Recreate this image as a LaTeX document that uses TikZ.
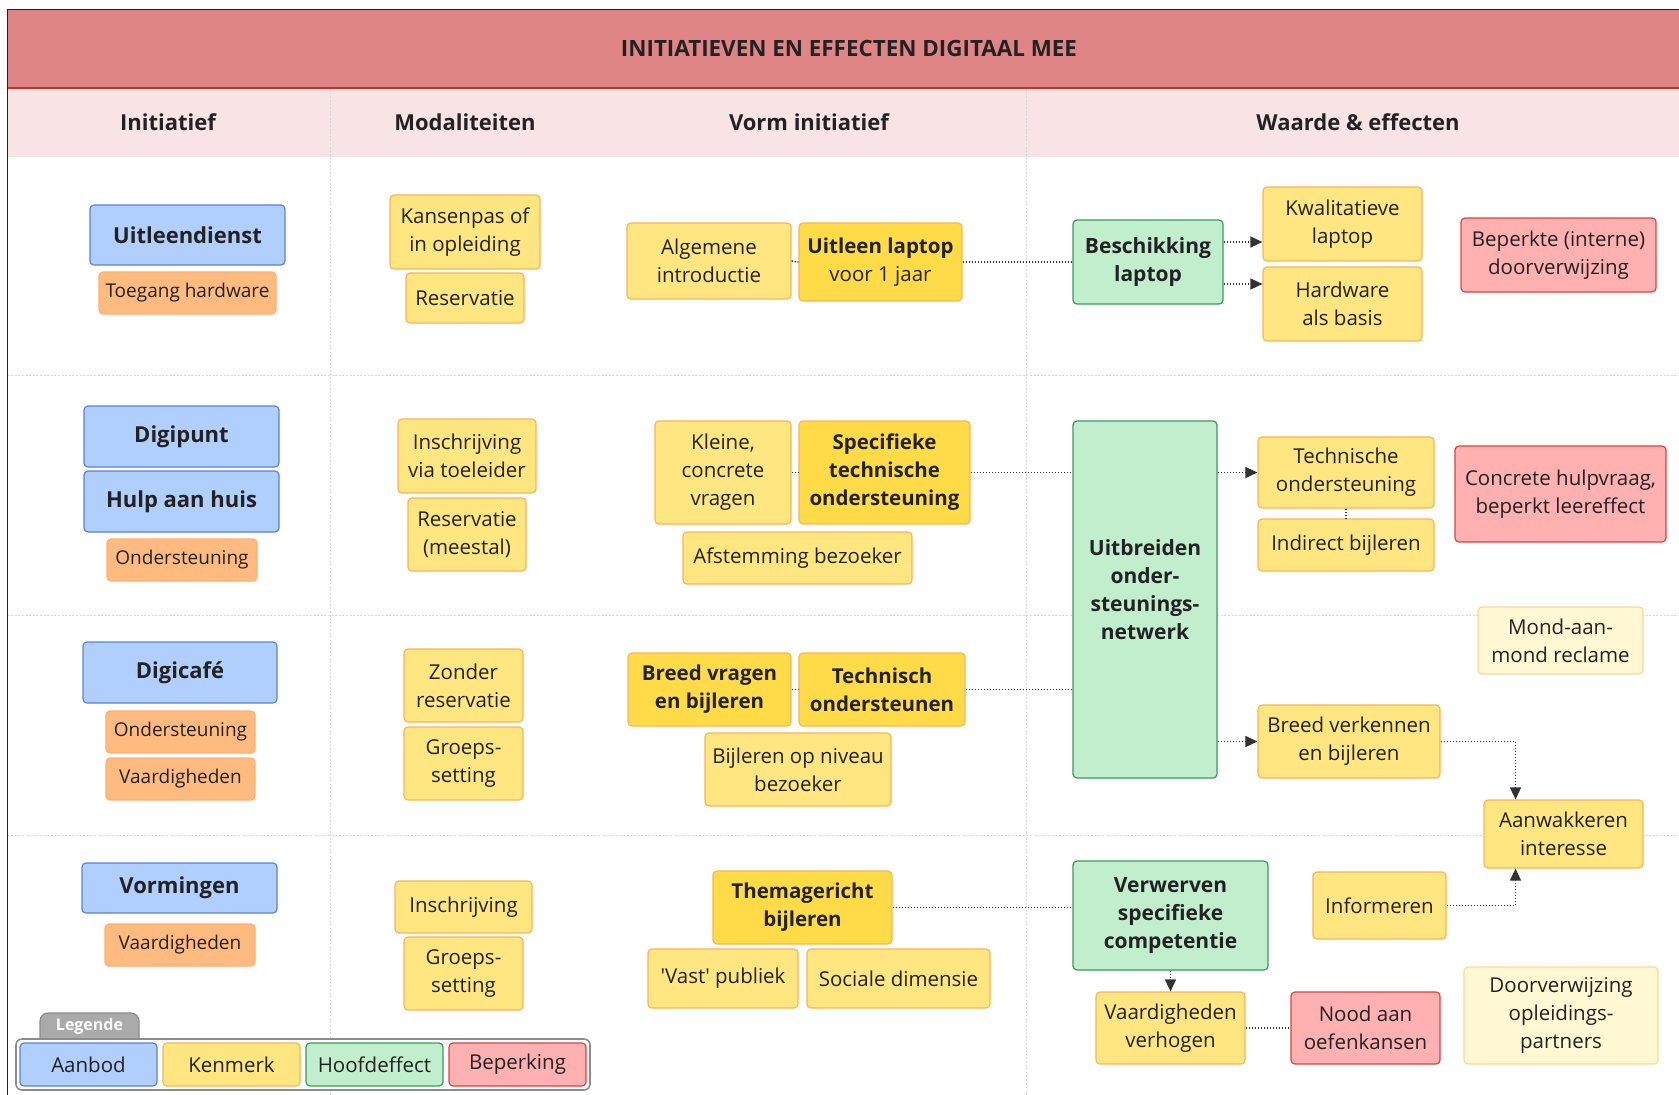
\documentclass[tikz,border=0pt]{standalone}
\usepackage{fontspec}
\setmainfont{Open Sans}
\usetikzlibrary{arrows.meta}
\definecolor{txt}{HTML}{222222}
\definecolor{blueF}{HTML}{B0CFFD}
\definecolor{blueD}{HTML}{5B82D6}
\definecolor{orF}{HTML}{FFBA80}
\definecolor{orD}{HTML}{FFB070}
\definecolor{yeF}{HTML}{FFE680}
\definecolor{yeD}{HTML}{F8B555}
\definecolor{syF}{HTML}{FFDB48}
\definecolor{grF}{HTML}{C1EECD}
\definecolor{grD}{HTML}{3A9A5E}
\definecolor{reF}{HTML}{FFB0B0}
\definecolor{reD}{HTML}{D84444}
\definecolor{lyF}{HTML}{FFF8D2}
\definecolor{lyD}{HTML}{FFD598}
\definecolor{titleF}{HTML}{DF8585}
\definecolor{titleL}{HTML}{C83030}
\definecolor{headF}{HTML}{F8E4E5}
\definecolor{cn}{HTML}{333333}
\definecolor{gridc}{HTML}{D8D8D8}
\definecolor{legT}{HTML}{AAAAAA}
\definecolor{legD}{HTML}{8C8C8C}
\newcommand\bx[7]{\node[#1, minimum width={(#5-#3)*0.5pt}, minimum height={(#6-#4)*0.5pt}] (#2) at ({(#3+#5)/2},{(#4+#6)/2}) {#7};}
\tikzset{
  base/.style={rounded corners=2pt, line width=0.6pt, align=center, inner sep=1pt, text=txt, font=\fontsize{10.25}{14}\selectfont},
  aanbod/.style={base, fill=blueF, draw=blueD, font=\fontsize{11}{14}\selectfont\bfseries},
  oranje/.style={base, fill=orF, draw=orD, font=\fontsize{9.5}{13}\selectfont},
  kenm/.style={base, fill=yeF, draw=yeD},
  sterk/.style={base, fill=syF, draw=yeD, font=\fontsize{10.25}{14}\selectfont\bfseries},
  hoofd/.style={base, fill=grF, draw=grD, font=\fontsize{10.5}{14}\selectfont\bfseries},
  beperk/.style={base, fill=reF, draw=reD},
  licht/.style={base, fill=lyF, draw=lyD},
  legbox/.style={rounded corners=3pt, fill=white, draw=legD, line width=0.8pt},
  conn/.style={draw=cn, line width=0.75pt, dash pattern=on 0.75pt off 0.75pt},
  arr/.style={conn, -{Triangle[length=6pt,width=5.5pt]}},
  gridl/.style={draw=gridc, line width=0.5pt, dash pattern=on 1pt off 0.8pt},
  headtxt/.style={text=txt, font=\fontsize{11}{14}\selectfont\bfseries},
}
\begin{document}
\begin{tikzpicture}[x=0.5pt,y=-0.5pt]
\useasboundingbox (0,0) rectangle (1679,1094);
\clip (0,0) rectangle (1679,1094);
\fill[white] (0,0) rectangle (1679,1094);
% title and header bands
\fill[titleF] (7.5,9.3) rectangle (1700,88);
\fill[headF] (7.5,88.5) rectangle (1700,157);
\draw[titleL, line width=0.9pt] (7.5,88) -- (1700,88);
% grid
\draw[gridl] (330,89) -- (330,1100);
\draw[gridl] (1026,89) -- (1026,1100);
\draw[gridl] (7.5,375) -- (1700,375);
\draw[gridl] (7.5,615) -- (1700,615);
\draw[gridl] (7.5,835) -- (1700,835);
% frame
\draw[txt, line width=0.7pt] (7.5,9.3) rectangle (1750,1150);
% texts
\node[text=txt, font=\fontsize{11.2}{13}\selectfont\bfseries] (title) at (849,48) {INITIATIEVEN EN EFFECTEN DIGITAAL MEE};
\node[headtxt] (h1) at (168,122) {Initiatief};
\node[headtxt] (h2) at (465,122) {Modaliteiten};
\node[headtxt] (h3) at (809,122) {Vorm initiatief};
\node[headtxt] (h4) at (1358,122) {Waarde \& effecten};
% row 1
\bx{aanbod}{uitl}{90}{205}{285}{265}{Uitleendienst}
\bx{oranje}{toeg}{99}{272}{276}{314}{Toegang hardware}
\bx{kenm}{kans}{390}{195}{540}{269}{Kansenpas of\\in opleiding}
\bx{kenm}{res1}{406}{273}{524}{323}{Reservatie}
\bx{kenm}{alg}{627}{223}{791}{299}{Algemene\\introductie}
\bx{sterk}{uitlap}{799}{223}{962}{301}{Uitleen laptop\\\mdseries voor 1 jaar}
\bx{hoofd}{besch}{1073}{220}{1223}{304}{Beschikking\\laptop}
\bx{kenm}{kwal}{1263}{187}{1422}{261}{Kwalitatieve\\laptop}
\bx{kenm}{hardw}{1263}{267}{1422}{341}{Hardware\\als basis}
\bx{beperk}{bep1}{1461}{218}{1656}{292}{Beperkte (interne)\\doorverwijzing}
% row 2
\bx{aanbod}{digip}{84}{406}{279}{467}{Digipunt}
\bx{aanbod}{hulp}{84}{471}{279}{532}{Hulp aan huis}
\bx{oranje}{ond1}{107}{539}{257}{581}{Ondersteuning}
\bx{kenm}{insch1}{398}{419}{536}{493}{Inschrijving\\via toeleider}
\bx{kenm}{res2}{408}{498}{526}{571}{Reservatie\\(meestal)}
\bx{kenm}{klein}{655}{421}{791}{524}{Kleine,\\concrete\\vragen}
\bx{sterk}{spec}{799}{421}{970}{524}{Specifieke\\technische\\ondersteuning}
\bx{kenm}{afst}{683}{532}{912}{584}{Afstemming bezoeker}
\bx{hoofd}{uitbr}{1073}{421}{1217}{778}{}
\node[hoofd, draw=none, fill=none] (uitbrT) at (1145,590) {Uitbreiden\\onder-\\steunings-\\netwerk};
\bx{kenm}{techo}{1258}{437}{1434}{508}{Technische\\ondersteuning}
\bx{kenm}{indir}{1258}{519}{1434}{571}{Indirect bijleren}
\bx{beperk}{bep2}{1455}{446}{1666}{542}{Concrete hulpvraag,\\beperkt leereffect}
\bx{licht}{mond}{1478}{607}{1643}{674}{Mond-aan-\\mond reclame}
% row 3
\bx{aanbod}{digic}{83}{642}{277}{703}{Digicafé}
\bx{oranje}{ond2}{106}{711}{255}{753}{Ondersteuning}
\bx{oranje}{vaar2}{106}{758}{255}{800}{Vaardigheden}
\bx{kenm}{zond}{404}{649}{523}{722}{Zonder\\reservatie}
\bx{kenm}{groep1}{404}{727}{523}{800}{Groeps-\\setting}
\bx{sterk}{breedv}{628}{653}{791}{726}{Breed vragen\\en bijleren}
\bx{sterk}{techn}{799}{653}{965}{726}{Technisch\\ondersteunen}
\bx{kenm}{bijl}{705}{733}{891}{806}{Bijleren op niveau\\bezoeker}
\bx{kenm}{breedk}{1258}{705}{1440}{778}{Breed verkennen\\en bijleren}
\bx{kenm}{aanw}{1484}{800}{1643}{868}{Aanwakkeren\\interesse}
% row 4
\bx{aanbod}{vorm}{82}{863}{277}{913}{Vormingen}
\bx{oranje}{vaar3}{105}{924}{255}{966}{Vaardigheden}
\bx{kenm}{insch2}{395}{881}{532}{933}{Inschrijving}
\bx{kenm}{groep2}{404}{937}{523}{1010}{Groeps-\\setting}
\bx{sterk}{thema}{713}{871}{892}{944}{Themagericht\\bijleren}
\bx{kenm}{vast}{648}{949}{798}{1008}{\textquotesingle Vast\textquotesingle{} publiek}
\bx{kenm}{soc}{807}{949}{990}{1008}{Sociale dimensie}
\bx{hoofd}{verw}{1073}{861}{1268}{970}{Verwerven\\specifieke\\competentie}
\bx{kenm}{info}{1313}{872}{1446}{939}{Informeren}
\bx{kenm}{vvh}{1096}{992}{1245}{1064}{Vaardigheden\\verhogen}
\bx{beperk}{nood}{1291}{992}{1440}{1064}{Nood aan\\oefenkansen}
\bx{licht}{door}{1464}{967}{1658}{1064}{Doorverwijzing\\opleidings-\\partners}
% connectors
\draw[conn] (alg.east) -- (uitlap.west);
\draw[conn] (uitlap.east) -- (besch.west);
\coordinate (b1) at ([yshift=10pt]besch.east);
\coordinate (b2) at ([yshift=-11pt]besch.east);
\draw[arr] (b1) -- (b1 -| kwal.west);
\draw[arr] (b2) -- (b2 -| hardw.west);
\draw[conn] (klein.east) -- (spec.west);
\draw[conn] (spec.east) -- (spec.east -| uitbr.west);
\draw[conn] (breedv.east) -- (techn.west);
\draw[conn] (techn.east) -- (techn.east -| uitbr.west);
\draw[arr] (uitbr.east |- techo.west) -- (techo.west);
\draw[arr] (uitbr.east |- breedk.west) -- (breedk.west);
\draw[conn] (techo.south) -- (indir.north);
\coordinate (awn) at ([xshift=-24pt]aanw.north);
\coordinate (aws) at ([xshift=-24pt]aanw.south);
\draw[arr] (breedk.east) -| (awn);
\draw[arr] (info.east) -| (aws);
\draw[conn] (thema.east) -- (thema.east -| verw.west);
\draw[arr] (verw.south) -- (vvh.north);
\draw[conn] (vvh.east) -- (nood.west);
% legend
\fill[legT, draw=legD, line width=0.6pt, rounded corners=4pt] (40,1050) rectangle (139,1013);
\node[text=white, font=\fontsize{8}{9}\selectfont\bfseries] (legt) at (89.5,1026) {Legende};
\bx{legbox}{legend}{16}{1039}{590}{1090}{}
\bx{aanbod}{lg1}{20}{1043}{157}{1086}{\mdseries\fontsize{10.25}{14}\selectfont Aanbod}
\bx{kenm}{lg2}{163}{1043}{300}{1086}{Kenmerk}
\bx{hoofd}{lg3}{306}{1043}{443}{1086}{\mdseries\fontsize{10.25}{14}\selectfont Hoofdeffect}
\bx{beperk}{lg4}{449}{1043}{586}{1086}{Beperking}
\end{tikzpicture}
\end{document}
